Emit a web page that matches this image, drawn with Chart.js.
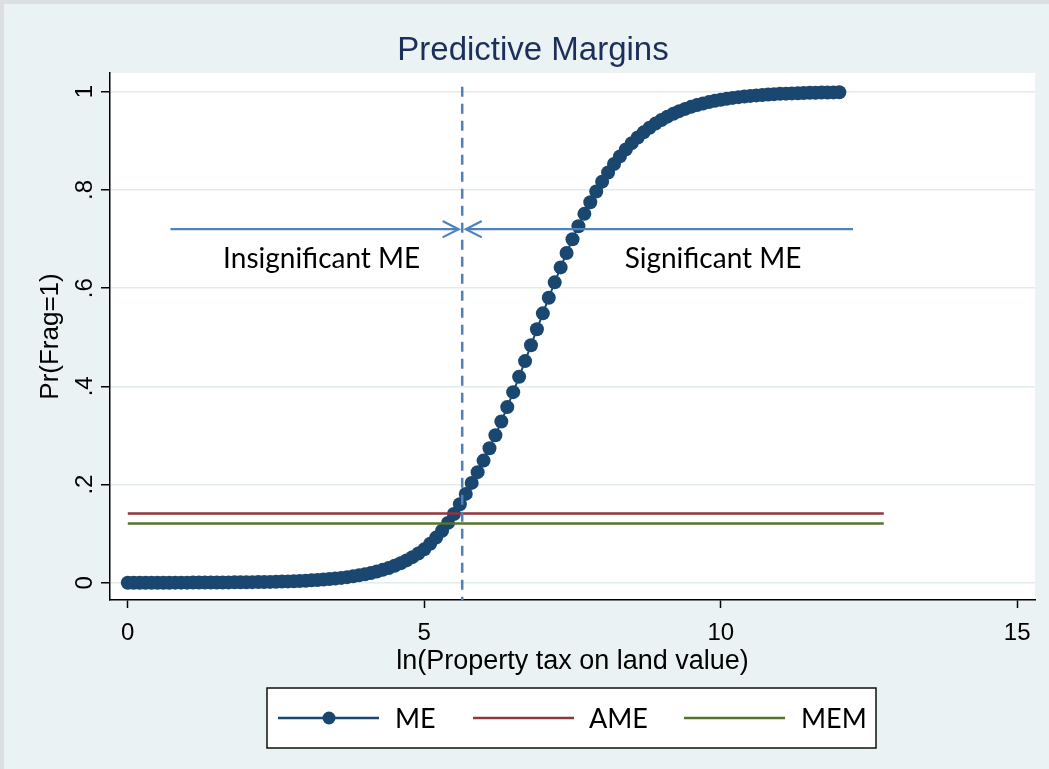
<!DOCTYPE html>
<html>
<head>
<meta charset="utf-8">
<script src="https://cdn.jsdelivr.net/npm/chart.js@4.4.1/dist/chart.umd.min.js"></script>
<style>
  html, body { margin: 0; padding: 0; background: #eaf2f3; }
  #wrap { width: 1049px; height: 769px; position: relative; }
  canvas { display: block; }
</style>
</head>
<body>
<div id="wrap"><canvas id="c" width="1049" height="769"></canvas></div>
<script>
// ---------------- data ----------------
const chartTitle = "Predictive Margins";
const xTitle = "ln(Property tax on land value)";
const yTitle = "Pr(Frag=1)";

const xTicks = [0, 5, 10, 15];
const yTicks = [0, 0.2, 0.4, 0.6, 0.8, 1];
const yTickLabels = ["0", ".2", ".4", ".6", ".8", "1"];

const meX = [
  0.0, 0.1, 0.2, 0.3, 0.4, 0.5, 0.6, 0.7, 0.8, 0.9,
  1.0, 1.1, 1.2, 1.3, 1.4, 1.5, 1.6, 1.7, 1.8, 1.9,
  2.0, 2.1, 2.2, 2.3, 2.4, 2.5, 2.6, 2.7, 2.8, 2.9,
  3.0, 3.1, 3.2, 3.3, 3.4, 3.5, 3.6, 3.7, 3.8, 3.9,
  4.0, 4.1, 4.2, 4.3, 4.4, 4.5, 4.6, 4.7, 4.8, 4.9,
  5.0, 5.1, 5.2, 5.3, 5.4, 5.5, 5.6, 5.7, 5.8, 5.9,
  6.0, 6.1, 6.2, 6.3, 6.4, 6.5, 6.6, 6.7, 6.8, 6.9,
  7.0, 7.1, 7.2, 7.3, 7.4, 7.5, 7.6, 7.7, 7.8, 7.9,
  8.0, 8.1, 8.2, 8.3, 8.4, 8.5, 8.6, 8.7, 8.8, 8.9,
  9.0, 9.1, 9.2, 9.3, 9.4, 9.5, 9.6, 9.7, 9.8, 9.9,
  10.0, 10.1, 10.2, 10.3, 10.4, 10.5, 10.6, 10.7, 10.8, 10.9,
  11.0, 11.1, 11.2, 11.3, 11.4, 11.5, 11.6, 11.7, 11.8, 11.9,
  12.0
];
const meY = [
  0.0001, 0.0001, 0.0001, 0.0001, 0.0001, 0.0002, 0.0002, 0.0002, 0.0003, 0.0003,
  0.0003, 0.0004, 0.0004, 0.0005, 0.0006, 0.0007, 0.0007, 0.0008, 0.0009, 0.0010,
  0.0011, 0.0013, 0.0015, 0.0017, 0.0019, 0.0022, 0.0025, 0.0029, 0.0033, 0.0038,
  0.0043, 0.0050, 0.0057, 0.0066, 0.0076, 0.0087, 0.0100, 0.0115, 0.0132, 0.0152,
  0.0174, 0.0200, 0.0230, 0.0264, 0.0303, 0.0348, 0.0398, 0.0456, 0.0522, 0.0596,
  0.0681, 0.0795, 0.0920, 0.1060, 0.1220, 0.1400, 0.1600, 0.1810, 0.2034, 0.2253,
  0.2488, 0.2739, 0.3005, 0.3285, 0.3578, 0.3882, 0.4195, 0.4514, 0.4838, 0.5162,
  0.5486, 0.5805, 0.6118, 0.6422, 0.6715, 0.6995, 0.7261, 0.7512, 0.7747, 0.7966,
  0.8168, 0.8355, 0.8526, 0.8682, 0.8824, 0.8952, 0.9068, 0.9172, 0.9266, 0.9350,
  0.9424, 0.9491, 0.9550, 0.9603, 0.9649, 0.9691, 0.9727, 0.9760, 0.9788, 0.9814,
  0.9836, 0.9856, 0.9873, 0.9888, 0.9902, 0.9914, 0.9924, 0.9933, 0.9941, 0.9949,
  0.9955, 0.9960, 0.9965, 0.9969, 0.9973, 0.9976, 0.9979, 0.9981, 0.9984, 0.9985,
  0.9987
];

const ameX = [0, 12.75];
const ameY = [0.141, 0.141];
const memX = [0, 12.75];
const memY = [0.121, 0.121];

const cutX = [5.64, 5.64];
const cutY = [1.01, -0.035];

const leftArrowX = [0.72, 5.58];
const leftArrowY = [0.72, 0.72];
const rightArrowX = [12.23, 5.70];
const rightArrowY = [0.72, 0.72];

const noteTexts = ["Insignificant ME", "Significant ME"];
const noteX = [3.27, 9.87];
const noteY = [0.659, 0.659];

const seriesNames = ["ME", "AME", "MEM"];

// ---------------- styles ----------------
const NAVY = "#1a476f";
const MAROON = "#90353b";
const GREEN = "#55752f";
const BLUE = "#4f81bd";
const BG = "#eaf2f3";
const GRID = "#e2ecee";

function pts(xs, ys) { return xs.map((x, i) => ({ x: x, y: ys[i] })); }

const decor = {
  id: "decor",
  beforeDraw(chart) {
    const ctx = chart.ctx, a = chart.chartArea;
    ctx.save();
    ctx.fillStyle = BG;
    ctx.fillRect(0, 0, chart.width, chart.height);
    ctx.fillStyle = "#dcdfe0";
    ctx.fillRect(0, 0, chart.width, 4);
    ctx.fillRect(0, 0, 4, chart.height);
    ctx.fillStyle = "#ffffff";
    ctx.fillRect(a.left, a.top, a.right - a.left, a.bottom - a.top);
    ctx.restore();
  },
  afterDatasetsDraw(chart) {
    const ctx = chart.ctx;
    chart.data.datasets.forEach((ds, i) => {
      if (!ds.arrow) return;
      const meta = chart.getDatasetMeta(i);
      const p0 = meta.data[0], p1 = meta.data[meta.data.length - 1];
      const ang = Math.atan2(p1.y - p0.y, p1.x - p0.x);
      const L = 17, spread = 0.47;
      ctx.save();
      ctx.strokeStyle = ds.borderColor;
      ctx.lineWidth = 2.2;
      ctx.lineCap = "round";
      ctx.beginPath();
      ctx.moveTo(p1.x - L * Math.cos(ang - spread), p1.y - L * Math.sin(ang - spread));
      ctx.lineTo(p1.x, p1.y);
      ctx.lineTo(p1.x - L * Math.cos(ang + spread), p1.y - L * Math.sin(ang + spread));
      ctx.stroke();
      ctx.restore();
    });
  },
  afterDraw(chart) {
    const ctx = chart.ctx, a = chart.chartArea;
    const xs = chart.scales.x, ys = chart.scales.y;
    ctx.save();
    // title
    ctx.fillStyle = "#1c2e5a";
    ctx.font = "33px 'Liberation Sans', Arial, sans-serif";
    ctx.textAlign = "center";
    ctx.textBaseline = "alphabetic";
    ctx.fillText(chartTitle, 533, 60);

    // y tick labels (rotated)
    ctx.fillStyle = "#000";
    ctx.font = "24px 'Liberation Sans', Arial, sans-serif";
    ys.ticks.forEach((t) => {
      const idx = yTicks.indexOf(t.value);
      const lab = idx >= 0 ? yTickLabels[idx] : String(t.value);
      const py = ys.getPixelForValue(t.value);
      ctx.save();
      ctx.translate(91.5, py);
      ctx.rotate(-Math.PI / 2);
      ctx.textAlign = "center";
      ctx.textBaseline = "alphabetic";
      ctx.fillText(lab, 0, 0);
      ctx.restore();
    });

    // y title
    ctx.font = "26px 'Liberation Sans', Arial, sans-serif";
    ctx.save();
    ctx.translate(58, (a.top + a.bottom) / 2);
    ctx.rotate(-Math.PI / 2);
    ctx.textAlign = "center";
    ctx.fillText(yTitle, 0, 0);
    ctx.restore();

    // x title
    ctx.font = "27px 'Liberation Sans', Arial, sans-serif";
    ctx.textAlign = "center";
    ctx.fillText(xTitle, (a.left + a.right) / 2, 669);

    // annotations
    ctx.font = "28px Lato, 'Open Sans', sans-serif";
    ctx.textBaseline = "middle";
    noteTexts.forEach((t, i) => {
      ctx.fillText(t, xs.getPixelForValue(noteX[i]), ys.getPixelForValue(noteY[i]));
    });

    // legend
    const bx = 267, by = 688, bw = 609, bh = 60;
    ctx.fillStyle = "#fff";
    ctx.fillRect(bx, by, bw, bh);
    ctx.strokeStyle = "#111";
    ctx.lineWidth = 1.5;
    ctx.strokeRect(bx, by, bw, bh);
    const cy = by + bh / 2;
    const lineStarts = [278, 473, 684];
    const textStarts = [395, 589, 801];
    ctx.font = "27px Lato, 'Open Sans', sans-serif";
    ctx.textAlign = "left";
    ctx.textBaseline = "middle";
    chart.data.datasets.filter(d => d.inLegend).forEach((d, i) => {
      ctx.strokeStyle = d.borderColor;
      ctx.lineWidth = 2.5;
      ctx.beginPath();
      ctx.moveTo(lineStarts[i], cy);
      ctx.lineTo(lineStarts[i] + 101, cy);
      ctx.stroke();
      if (d.pointRadius > 0) {
        ctx.fillStyle = d.pointBackgroundColor;
        ctx.beginPath();
        ctx.arc(lineStarts[i] + 51, cy, 6.5, 0, Math.PI * 2);
        ctx.fill();
      }
      ctx.fillStyle = "#000";
      ctx.fillText(d.label, textStarts[i], cy + 1);
    });
    ctx.restore();
  }
};

new Chart(document.getElementById("c"), {
  type: "scatter",
  data: {
    datasets: [
      { label: seriesNames[0], data: pts(meX, meY), showLine: true, borderColor: NAVY, borderWidth: 2,
        pointRadius: 7, pointBorderWidth: 0, pointBackgroundColor: NAVY, backgroundColor: NAVY,
        order: 10, inLegend: true },
      { label: seriesNames[1], data: pts(ameX, ameY), showLine: true, borderColor: MAROON, borderWidth: 2.5,
        pointRadius: 0, order: 2, inLegend: true },
      { label: seriesNames[2], data: pts(memX, memY), showLine: true, borderColor: GREEN, borderWidth: 2.5,
        pointRadius: 0, order: 2, inLegend: true },
      { label: "cut", data: pts(cutX, cutY), showLine: true, borderColor: BLUE, borderWidth: 2.5,
        borderDash: [10, 7], pointRadius: 0, order: 1 },
      { label: "left", data: pts(leftArrowX, leftArrowY), showLine: true, borderColor: BLUE, borderWidth: 2.2,
        pointRadius: 0, order: 1, arrow: true },
      { label: "right", data: pts(rightArrowX, rightArrowY), showLine: true, borderColor: BLUE, borderWidth: 2.2,
        pointRadius: 0, order: 1, arrow: true }
    ]
  },
  options: {
    responsive: false,
    animation: false,
    devicePixelRatio: 1,
    layout: { padding: { top: 73, right: 14, left: 0, bottom: 0 } },
    elements: { line: { tension: 0 } },
    plugins: { legend: { display: false }, title: { display: false }, tooltip: { enabled: false } },
    scales: {
      x: {
        type: "linear", position: "bottom", min: -0.3, max: 15.3,
        afterBuildTicks: (s) => { s.ticks = xTicks.map(v => ({ value: v })); },
        afterFit: (s) => { s.height = 169; },
        grid: { drawOnChartArea: false, drawTicks: true, tickLength: 8, tickColor: "#000", tickWidth: 1.5 },
        border: { display: true, color: "#000", width: 1.5 },
        ticks: { color: "#000", font: { family: "'Liberation Sans', Arial, sans-serif", size: 24 },
                 padding: 11, maxRotation: 0, minRotation: 0, autoSkip: false,
                 callback: (v) => String(v) }
      },
      y: {
        type: "linear", position: "left", min: -0.035, max: 1.038,
        afterBuildTicks: (s) => { s.ticks = yTicks.map(v => ({ value: v })); },
        afterFit: (s) => { s.width = 110; },
        grid: { color: GRID, lineWidth: 1.5, drawTicks: true, tickLength: 9, tickColor: "#000", tickWidth: 1.5 },
        border: { display: true, color: "#000", width: 1.5 },
        ticks: { display: false }
      }
    }
  },
  plugins: [decor]
});
</script>
</body>
</html>
